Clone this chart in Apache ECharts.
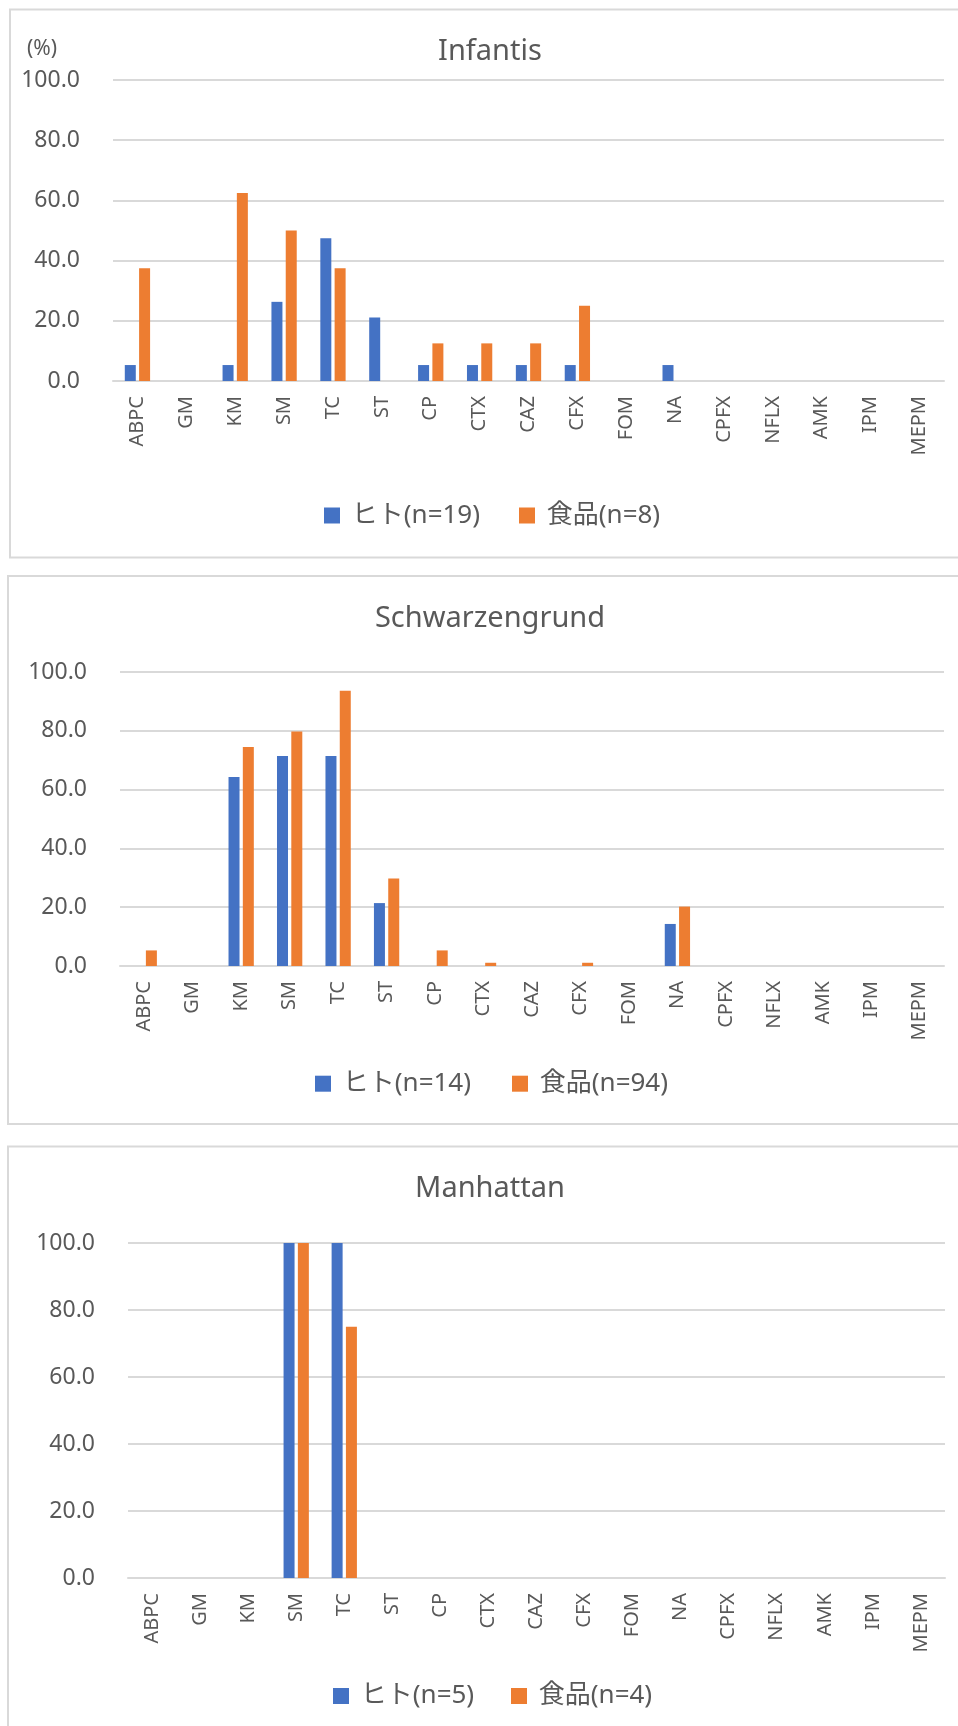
<!DOCTYPE html>
<html>
<head>
<meta charset="utf-8">
<script src="https://cdn.jsdelivr.net/npm/echarts@6/dist/echarts.min.js"></script>
<style>
html,body{margin:0;padding:0;background:#fff;overflow:hidden;}
#chart{width:958px;height:1726px;}
</style>
</head>
<body>
<div id="chart"></div>
<script>
// ---- data ----
const categories = ['ABPC','GM','KM','SM','TC','ST','CP','CTX','CAZ','CFX','FOM','NA','CPFX','NFLX','AMK','IPM','MEPM'];
const yTicks = [0, 20, 40, 60, 80, 100];

const titles = ['Infantis', 'Schwarzengrund', 'Manhattan'];
const humanNames = ['ヒト(n=19)', 'ヒト(n=14)', 'ヒト(n=5)'];
const foodNames = ['食品(n=8)', '食品(n=94)', '食品(n=4)'];

const infantisHuman = [5.3, 0, 5.3, 26.3, 47.4, 21.1, 5.3, 5.3, 5.3, 5.3, 0, 5.3, 0, 0, 0, 0, 0];
const infantisFood  = [37.5, 0, 62.5, 50.0, 37.5, 0, 12.5, 12.5, 12.5, 25.0, 0, 0, 0, 0, 0, 0, 0];
const schwarzHuman  = [0, 0, 64.3, 71.4, 71.4, 21.4, 0, 0, 0, 0, 0, 14.3, 0, 0, 0, 0, 0];
const schwarzFood   = [5.3, 0, 74.5, 79.8, 93.6, 29.8, 5.3, 1.1, 0, 1.1, 0, 20.2, 0, 0, 0, 0, 0];
const manhattanHuman = [0, 0, 0, 100, 100, 0, 0, 0, 0, 0, 0, 0, 0, 0, 0, 0, 0];
const manhattanFood  = [0, 0, 0, 100, 75, 0, 0, 0, 0, 0, 0, 0, 0, 0, 0, 0, 0];

const humanData = [infantisHuman, schwarzHuman, manhattanHuman];
const foodData = [infantisFood, schwarzFood, manhattanFood];

// ---- layout ----
const TXT = '#595959';
const GRIDC = '#d9d9d9';
const FONT = '"Noto Sans", "Noto Sans CJK JP", sans-serif';
const BLUE = '#4472C4';
const ORANGE = '#ED7D31';

const panels = [
  {box: [10, 9.5, 548], grid: {left: 113, right: 14, top: 80, height: 301}, titleY: 52, legY: 515.5, leg1: 324, leg2: 519},
  {box: [8, 576, 548], grid: {left: 120, right: 14, top: 672, height: 294}, titleY: 618.5, legY: 1083.7, leg1: 315, leg2: 512},
  {box: [8, 1146.5, 640], grid: {left: 128, right: 13, top: 1243, height: 335}, titleY: 1188.6, legY: 1696, leg1: 333, leg2: 511}
];

const grid = [], xAxis = [], yAxis = [], series = [], legend = [], graphic = [];

panels.forEach((p, i) => {
  graphic.push({type: 'rect', shape: {x: p.box[0], y: p.box[1], width: 990, height: p.box[2]},
    style: {fill: 'none', stroke: GRIDC, lineWidth: 2}, silent: true, z: -1});
  graphic.push({type: 'text', x: 490, y: p.titleY,
    style: {text: titles[i], font: '29px ' + FONT, fill: TXT, align: 'center', verticalAlign: 'middle'}});
  grid.push(Object.assign({}, p.grid));
  xAxis.push({
    type: 'category', gridIndex: i, data: categories,
    axisLine: {lineStyle: {color: GRIDC, width: 2}},
    axisTick: {show: false},
    axisLabel: {rotate: 90, margin: 15, color: TXT, fontSize: 20, fontFamily: FONT, interval: 0}
  });
  yAxis.push({
    type: 'value', gridIndex: i, min: yTicks[0], max: yTicks[yTicks.length - 1], interval: yTicks[1] - yTicks[0],
    axisLine: {show: false}, axisTick: {show: false},
    splitLine: {lineStyle: {color: GRIDC, width: 2}},
    axisLabel: {margin: 33, color: TXT, fontSize: 23, fontFamily: FONT, formatter: v => v.toFixed(1)}
  });
  series.push({type: 'bar', name: humanNames[i], xAxisIndex: i, yAxisIndex: i, data: humanData[i],
    barWidth: 11, barGap: '30%', itemStyle: {color: BLUE}});
  series.push({type: 'bar', name: foodNames[i], xAxisIndex: i, yAxisIndex: i, data: foodData[i],
    barWidth: 11, barGap: '30%', itemStyle: {color: ORANGE}});
  [[humanNames[i], p.leg1], [foodNames[i], p.leg2]].forEach(([nm, lx]) => {
    legend.push({
      data: [nm], left: lx, top: p.legY - 13, padding: 0,
      itemWidth: 16, itemHeight: 16, icon: 'rect',
      formatter: n => ' ' + n,
      textStyle: {color: TXT, fontSize: 26, fontFamily: FONT, lineHeight: 26}
    });
  });
});

graphic.push({type: 'text', x: 27, y: 49,
  style: {text: '(%)', font: '21px ' + FONT, fill: TXT, align: 'left', verticalAlign: 'middle'}});

const chart = echarts.init(document.getElementById('chart'), null, {renderer: 'canvas'});
chart.setOption({
  animation: false,
  backgroundColor: '#fff',
  grid, xAxis, yAxis, series, legend, graphic
});
</script>
</body>
</html>
